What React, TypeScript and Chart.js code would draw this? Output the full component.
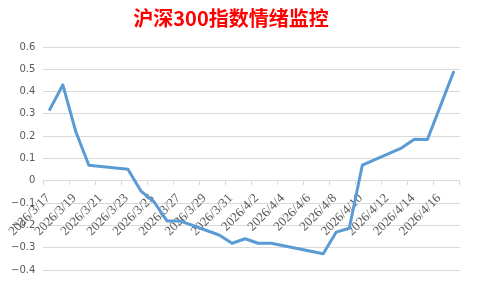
import React, { useEffect, useRef } from "react";
import { Chart, registerables } from "chart.js";

Chart.register(...registerables);

const YEAR = 2026;
const START_DATE = "3/17";
const DAY_SPAN = 32;
const TICK_STEP_DAYS = 2;

const dates = [
  "3/17", "3/18", "3/19", "3/20", "3/23", "3/24", "3/25", "3/26", "3/27",
  "3/30", "3/31", "4/1", "4/2", "4/3", "4/7", "4/8", "4/9", "4/10",
  "4/13", "4/14", "4/15", "4/16", "4/17",
];

const values = [
  0.32, 0.43, 0.22, 0.07, 0.052, -0.046, -0.094, -0.18, -0.18,
  -0.243, -0.28, -0.26, -0.28, -0.28, -0.327, -0.23, -0.213, 0.07,
  0.147, 0.186, 0.185, 0.336, 0.487,
];

const yTickValues = [-0.4, -0.3, -0.2, -0.1, 0, 0.1, 0.2, 0.3, 0.4, 0.5, 0.6];

const TITLE = "沪深300指数情绪监控";

const toUTC = (md: string) => {
  const [m, d] = md.split("/").map(Number);
  return Date.UTC(YEAR, m - 1, d);
};
const DAY_MS = 86400000;
const startMs = toUTC(START_DATE);
const dayIndex = (md: string) => Math.round((toUTC(md) - startMs) / DAY_MS);
const labelFor = (idx: number) => {
  const dt = new Date(startMs + idx * DAY_MS);
  return `${dt.getUTCFullYear()}/${dt.getUTCMonth() + 1}/${dt.getUTCDate()}`;
};

export default function App() {
  const ref = useRef<HTMLCanvasElement | null>(null);

  useEffect(() => {
    document.body.style.margin = "0";
    if (!ref.current) return;
    const points = dates.map((d, i) => ({ x: dayIndex(d) + 0.5, y: values[i] }));
    const chart = new Chart(ref.current, {
      type: "line",
      data: {
        datasets: [
          {
            data: points,
            borderColor: "#5B9BD5",
            borderWidth: 3,
            pointRadius: 0,
            tension: 0,
            borderCapStyle: "round",
            borderJoinStyle: "round",
            fill: false,
          },
        ],
      },
      options: {
        animation: false,
        responsive: true,
        maintainAspectRatio: false,
        layout: { padding: { left: 0, right: 15, top: 0, bottom: 10 } },
        plugins: {
          legend: { display: false },
          tooltip: { enabled: false },
          title: {
            display: true,
            text: TITLE,
            color: "#FF0000",
            font: { family: "'Noto Sans CJK SC', sans-serif", size: 20, weight: "bold" },
            padding: { top: 6, bottom: 17 },
          },
        },
        scales: {
          x: {
            type: "linear",
            position: { y: 0 } as any,
            min: 0,
            max: DAY_SPAN,
            afterBuildTicks: (scale: any) => {
              const t = [];
              for (let v = 0; v <= DAY_SPAN; v += TICK_STEP_DAYS) t.push({ value: v });
              scale.ticks = t;
            },
            ticks: {
              autoSkip: false,
              minRotation: 45,
              maxRotation: 45,
              padding: 6,
              labelOffset: 5,
              color: "#595959",
              font: { family: "'Liberation Serif', serif", size: 13 },
              callback: (v: any) => (Number(v) >= DAY_SPAN ? "" : labelFor(Number(v))),
            },
            grid: {
              display: true,
              drawOnChartArea: false,
              drawTicks: true,
              tickLength: 4,
              color: "#D9D9D9",
            },
            border: { display: true, color: "#D9D9D9", width: 1 },
          },
          y: {
            min: yTickValues[0],
            max: yTickValues[yTickValues.length - 1],
            afterBuildTicks: (scale: any) => {
              scale.ticks = yTickValues.map((v) => ({ value: v }));
            },
            afterFit: (scale: any) => {
              scale.width = 42;
            },
            ticks: {
              padding: 8,
              color: "#595959",
              font: { family: "'DejaVu Sans', sans-serif", size: 10 },
              callback: (v: any) => {
                const n = Number(v);
                if (Math.abs(n) < 1e-9) return "0";
                return n.toFixed(1).replace("-", "\u2212");
              },
            },
            grid: { color: "#D9D9D9", drawTicks: false, lineWidth: 1 },
            border: { display: false },
          },
        },
      },
    });
    return () => chart.destroy();
  }, []);

  return (
    <div style={{ width: 477, height: 284, position: "relative", background: "#fff" }}>
      <canvas ref={ref} />
    </div>
  );
}
